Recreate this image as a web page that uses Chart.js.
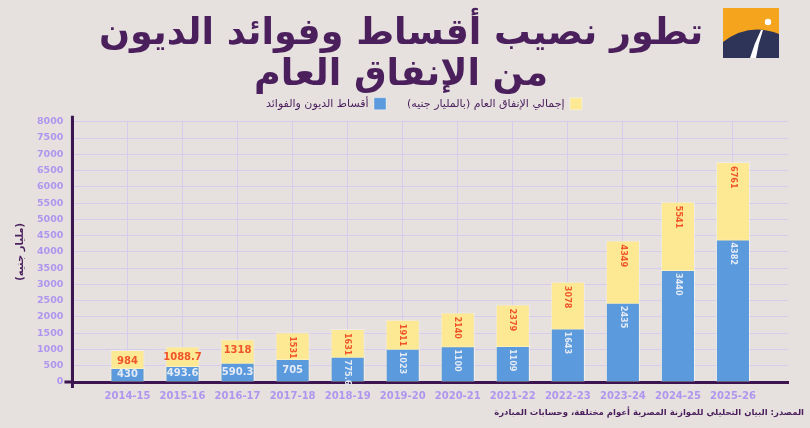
<!DOCTYPE html>
<html lang="ar">
<head>
<meta charset="utf-8">
<title>تطور نصيب أقساط وفوائد الديون من الإنفاق العام</title>
<script src="https://cdn.jsdelivr.net/npm/chart.js@4.4.1/dist/chart.umd.min.js"></script>
<style>
    html, body { margin: 0; padding: 0; background: #e6e1df; }
    #wrap { position: relative; width: 810px; height: 428px; overflow: hidden; }
    #logo { position: absolute; left: 723px; top: 8px; }
    #source {
        position: absolute; right: 6px; top: 407px;
        font: bold 8.5px "DejaVu Sans", sans-serif; color: #4a1f5c; direction: rtl;
    }
</style>
</head>
<body>
<div id="wrap">
    <canvas id="debtChart" width="810" height="428"></canvas>
    <svg id="logo" width="56" height="50" viewBox="0 0 56 50">
        <rect width="56" height="50" fill="#f4a41d"/>
        <path d="M0 34 Q26 14 56 26 L56 50 L0 50 Z" fill="#2d3458"/>
        <path d="M38 22 Q31 36 27 50 L33 50 Q35 36 40 22 Z" fill="#ffffff"/>
        <circle cx="45" cy="14" r="3.2" fill="#ffffff"/>
    </svg>
    <div id="source">المصدر: البيان التحليلي للموازنة المصرية أعوام مختلفة، وحسابات المبادرة</div>
</div>
<script>
// fiscal years
const years = ['2014-15', '2015-16', '2016-17', '2017-18', '2018-19', '2019-20',
    '2020-21', '2021-22', '2022-23', '2023-24', '2024-25', '2025-26'];
// debt installments + interest (bn EGP)
const debtService = [430, 493.6, 590.3, 705, 775.6, 1023, 1100, 1109, 1643, 2435, 3440, 4382];
// total public spending (bn EGP)
const totalSpending = [984, 1088.7, 1318, 1531, 1631, 1911, 2140, 2379, 3078, 4349, 5541, 6761];
const yMax = 8000;
const yStep = 500;
// how many leading labels are written flat, the rest are turned on their side
const flatTotalLabels = 3;
const flatDebtLabels = 4;

const purple = '#4a1f5c';
const axisColor = '#3b1450';
const tickColor = '#ad97ee';

// empty slot on each side so the bars sit on the grid lines
const pad = (arr) => [null, ...arr, null];

const barLabels = {
    id: 'barLabels',
    afterDatasetsDraw(chart) {
        const ctx = chart.ctx;
        const debtMeta = chart.getDatasetMeta(0);
        const totalMeta = chart.getDatasetMeta(1);
        ctx.save();
        years.forEach((y, i) => {
            const debtBar = debtMeta.data[i + 1];
            const totalBar = totalMeta.data[i + 1];
            // total spending label, in the yellow part
            ctx.fillStyle = '#ef5528';
            if (i < flatTotalLabels) {
                drawFlat(ctx, String(totalSpending[i]), totalBar.x, totalBar.y + 11);
            } else {
                drawTurned(ctx, String(totalSpending[i]), totalBar.x, totalBar.y + 4);
            }
            // debt label, in the blue part
            ctx.fillStyle = '#e4ebf5';
            if (i < flatDebtLabels) {
                drawFlat(ctx, String(debtService[i]), debtBar.x, (debtBar.y + debtBar.base) / 2);
            } else {
                drawTurned(ctx, String(debtService[i]), debtBar.x, debtBar.y + 3);
            }
        });
        ctx.restore();
    }
};

function drawFlat(ctx, text, x, y) {
    ctx.font = 'bold 10px "DejaVu Sans", sans-serif';
    ctx.textAlign = 'center';
    ctx.textBaseline = 'middle';
    ctx.fillText(text, x, y);
}

function drawTurned(ctx, text, x, y) {
    ctx.save();
    ctx.translate(x, y);
    ctx.rotate(Math.PI / 2);
    ctx.font = 'bold 9px "DejaVu Sans Condensed", "DejaVu Sans", sans-serif';
    ctx.textAlign = 'left';
    ctx.textBaseline = 'middle';
    ctx.fillText(text, 0, 0);
    ctx.restore();
}

// little overshoot of the two axis lines past their crossing
const axisStubs = {
    id: 'axisStubs',
    afterDraw(chart) {
        const { left, top, bottom } = chart.chartArea;
        const ctx = chart.ctx;
        ctx.save();
        ctx.strokeStyle = axisColor;
        ctx.lineWidth = 3;
        ctx.beginPath();
        ctx.moveTo(left - 8, bottom);
        ctx.lineTo(left, bottom);
        ctx.moveTo(left, bottom + 6);
        ctx.lineTo(left, top - 6);
        ctx.stroke();
        ctx.restore();
    }
};

// legend sits a bit higher and right of centre in the original
const legendNudge = {
    id: 'legendNudge',
    afterLayout(chart) {
        const lg = chart.legend;
        lg.left += 23;
        lg.right += 23;
        lg.top -= 19;
    }
};

const ctx = document.getElementById('debtChart').getContext('2d');
new Chart(ctx, {
    type: 'bar',
    data: {
        labels: pad(years),
        datasets: [{
            label: 'أقساط الديون والفوائد',
            data: pad(debtService),
            backgroundColor: '#5c9ade',
            borderColor: 'rgba(255, 255, 255, 0.35)',
            borderWidth: 1,
            grouped: false,
            barPercentage: 0.62,
            categoryPercentage: 1
        },
        {
            label: 'إجمالي الإنفاق العام (بالمليار جنيه)',
            data: pad(totalSpending),
            backgroundColor: '#fde994',
            borderColor: 'rgba(255, 255, 255, 0.35)',
            borderWidth: 1,
            grouped: false,
            barPercentage: 0.62,
            categoryPercentage: 1
        }]
    },
    options: {
        responsive: false,
        animation: false,
        layout: { padding: { left: 14, right: 22, top: 0, bottom: 18 } },
        plugins: {
            title: {
                display: true,
                text: ['تطور نصيب أقساط وفوائد الديون', 'من الإنفاق العام'],
                color: purple,
                font: { family: '"DejaVu Sans", sans-serif', size: 36.5, weight: 'bold', lineHeight: 1.12 },
                padding: { top: 14, bottom: 0 }
            },
            legend: {
                display: true,
                rtl: true,
                reverse: true,
                textDirection: 'rtl',
                maxHeight: 26,
                labels: {
                    color: purple,
                    boxWidth: 12,
                    boxHeight: 12,
                    padding: 21,
                    font: { family: '"DejaVu Sans", sans-serif', size: 11 }
                }
            },
            tooltip: { enabled: false }
        },
        scales: {
            x: {
                offset: false,
                grid: { color: '#d6cdec', drawTicks: false, offset: false },
                border: { color: axisColor, width: 3 },
                ticks: {
                    color: tickColor,
                    padding: 8,
                    maxRotation: 0,
                    autoSkip: false,
                    font: { family: '"DejaVu Sans", sans-serif', size: 10, weight: 'bold' }
                }
            },
            y: {
                min: 0,
                max: yMax,
                grid: { color: '#d6cdec', drawTicks: false },
                border: { color: axisColor, width: 3 },
                title: {
                    display: true,
                    text: '(مليار جنيه)',
                    color: purple,
                    font: { family: '"DejaVu Sans", sans-serif', size: 10, weight: 'bold' },
                    padding: { top: 0, bottom: 2 }
                },
                ticks: {
                    stepSize: yStep,
                    color: tickColor,
                    padding: 9,
                    callback: (v) => v,
                    font: { family: '"DejaVu Sans", sans-serif', size: 9.5, weight: 'bold' }
                }
            }
        }
    },
    plugins: [barLabels, axisStubs, legendNudge]
});
</script>
</body>
</html>
